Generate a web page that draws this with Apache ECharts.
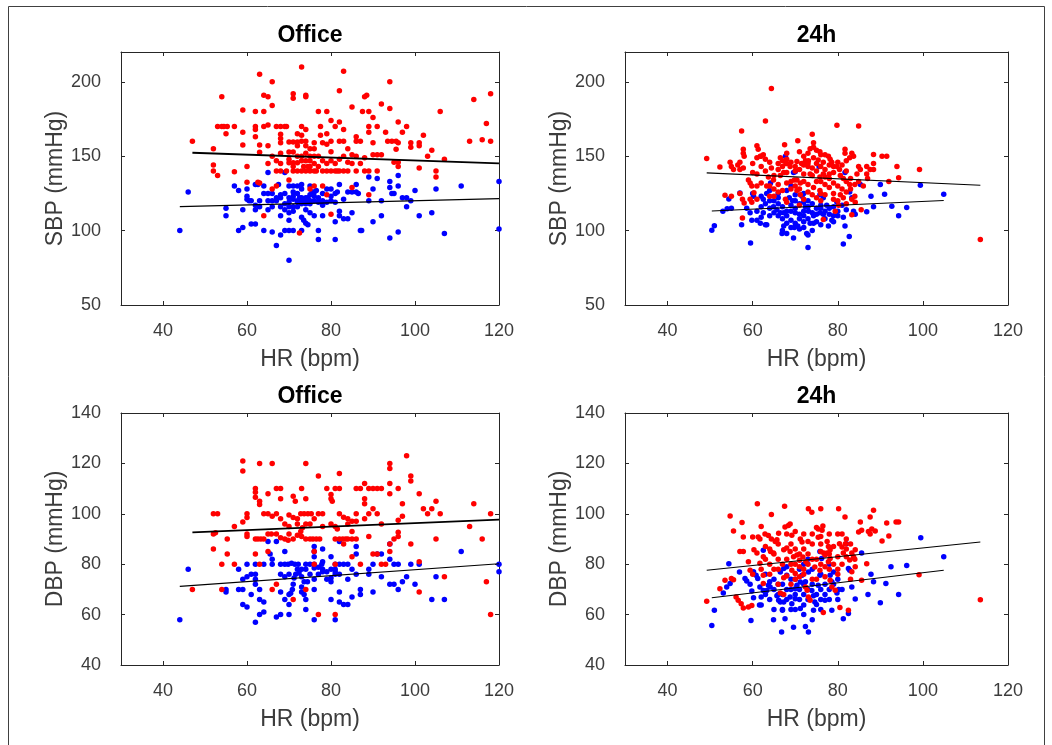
<!DOCTYPE html>
<html>
<head>
<meta charset="utf-8">
<script src="https://cdn.jsdelivr.net/npm/echarts@6/dist/echarts.min.js"></script>
<style>
html,body{margin:0;padding:0;background:#fff;}
#chart{width:1052px;height:745px;}
</style>
</head>
<body>
<div id="chart"></div>
<script>
// ---- Titles / labels ----
const panelTitles = ['Office', '24h', 'Office', '24h'];
const xLabel = 'HR (bpm)';
const yLabels = ['SBP (mmHg)', 'SBP (mmHg)', 'DBP (mmHg)', 'DBP (mmHg)'];

// ---- Tick labels ----
const hrTicks = [40, 60, 80, 100, 120];
const sbpTicks = [50, 100, 150, 200];
const dbpTicks = [40, 60, 80, 100, 120, 140];
const hrRange = [30, 120];
const sbpRange = [50, 220];
const dbpRange = [40, 140];

// ---- Office SBP ----
const officeSbpRed = [[47,160],[54,190],[52,155],[52,144],[52,140],[53,137],[53,170],[54,170],[54.5,170],[55.3,170],[55,165],[57,170],[57,139.5],[59,181],[59,166],[59,157.5],[60,132.5],[60,143],[62,180],[62,170],[62,168],[62,163],[64,180],[63,205],[63,157.5],[63,152.6],[62.6,132.5],[63,132],[64,191],[65,190],[64,170],[65,171],[65,157],[65,145],[66,200],[66,184],[64,110],[67,170],[68,170],[69,170],[69.4,170],[68,164.7],[68,161.8],[68,159],[68,152],[67,140],[68,140],[69.4,140],[71,192],[71,189],[70,159.5],[71,159.5],[72,159.5],[72,157],[70,152.8],[71,152.8],[70,145.6],[71,145.6],[72,145.6],[71,140],[72,140],[73,140],[70,134],[73,210],[73,170],[73,164],[73,160],[74,160],[74,190],[74,191],[74,157],[73,147],[74,147],[75,147],[73.5,143],[74.5,143],[75,143],[74,140],[75,140],[76,140],[76.5,140],[72.5,98.4],[76,159],[77,180],[79,180],[77.5,170],[77.5,164],[78,159],[78,130],[79,124],[80,174],[81,170],[82,194],[83,207],[82,173],[82,160],[83,160],[81,145],[81,140],[81.5,140],[82,140],[83,140],[84,140],[83,168],[84,155],[85,183],[85,151],[86,163],[86,160],[87,160],[88,190],[88.5,191],[87.5,180],[88,149],[88,140],[89,140],[89,180],[90,176],[89,170],[91,170],[89,166],[90,159],[90,151],[91,151],[92,151],[91,140],[92,185],[93,166],[93.5,160],[94.5,160],[95.5,160],[96,159],[94,200],[94,182],[96,173],[98,170],[97,166],[95.5,154.6],[95,146],[96,146],[96,143],[99,159],[99,156],[101,159],[101,157],[102,164],[101,142],[103,150],[104,154],[105,140],[105,136],[106,180],[107,148],[114,188],[113,160],[116,161],[117,172],[118,192],[118,160],[80,111],[85,129],[89,124],[75,150],[76,150],[77,150],[79,165],[80,153],[78,140],[79,140],[80,140],[86,140],[75,128],[76,130],[66,128],[67,130],[72,150],[73,150],[74,152],[70,148],[71,143],[76,145],[77,143],[78,147],[79,145],[80,147],[82,148],[83,150],[84,146],[75,155],[76,155],[66,150],[67,147],[68,145],[72,165],[74,168],[79,158],[80,160],[85,145],[86,150],[87,145]];
const officeSbpBlue = [[44,100],[46,126],[55,115],[55,110],[57,130],[58,127],[58,100],[59,102],[59,114],[60,121],[60,123],[60.5,120],[61,120],[60,128],[62,131],[62.6,131],[62,114],[63,116],[62,117],[61,104.5],[62,104.5],[64,130],[64,100],[65,139],[65,120],[66,120],[65,114],[66,99],[67,90],[67,120],[67,122],[67.5,131],[68,122],[69,139],[68,97],[69,100],[68,116],[69,114],[70,112],[70,107],[70,100],[70,80],[70,130],[71,126],[71,121],[72,120],[72.5,122],[70,116],[71,116],[72,116],[71,100],[73,120],[73,118],[74,122],[74,120],[74.5,121],[73,109],[73.5,107],[74,105],[74.5,104],[73,100],[74,114],[74.5,122],[75,124],[75.5,126],[76,126],[76.5,127],[77,100],[77,94],[78,110],[78,120],[79,119],[80,120],[80,128],[81,125],[81.5,126],[81,106],[81,94],[82,131],[82,113],[82,110],[83,108],[84,108],[85,112],[84,126],[85,126],[86,126],[86.5,125],[86,131],[87,100],[87.3,100],[89,136],[89,120],[90,128],[91,135],[90,106],[92,120],[92,110],[94,133],[94,129],[94.5,125],[94,95],[96,137],[96,130],[96,99],[95,125],[97,122],[98,122],[99,120],[98,116],[100,127],[101,110],[104,112],[105,128],[107,98],[111,130],[120,133],[120,101],[72,125],[73,128],[75,118],[76,120],[77,122],[70,122],[69,125],[66,125],[64,125],[63,120],[68,110],[75,112],[76,110],[78,125],[79,128],[71,113],[72,130],[71,123],[72,119],[73,122],[74,118],[75,120],[76,123],[77,119],[69,118],[70,119],[68,124],[66,116],[65,125],[78,117],[80,123],[81,119],[83,121],[75,130],[71,130],[73,131]];
const officeSbpRedFit = [[47,152.3],[120,145.1]];
const officeSbpBlueFit = [[44,116.1],[120,121.5]];

// ---- 24h SBP ----
const h24SbpRed = [[49.2,148.5],[52.3,142.7],[53.5,123.8],[55,123],[54.7,146],[55,143],[55.5,141],[56.5,144],[57,146],[57,141],[57.8,142],[57.4,167],[57.8,154.6],[57.8,152],[58,150],[57,125],[57.6,121],[58,118.6],[57.6,108.5],[59,134],[59.4,132],[59.8,130],[59.4,121],[59.8,119],[61,157],[61.3,154.6],[61,149],[61.8,150],[60,139],[61,138],[60.3,125.4],[61,121],[62,150],[62.5,151],[63,173.7],[64.4,195.5],[64.4,142],[63.7,136],[64.9,134],[63.3,130],[64,130],[64,123],[65,123],[66.5,149],[67,147],[67.8,145],[67.5,157.7],[68,152],[68,145],[68.8,143],[66.5,137],[67.3,139],[68,139],[69,133],[69.8,134],[67.7,121],[68,119],[70.6,160.4],[71,153],[70.4,146.5],[71.5,145],[72.4,147],[70.4,134],[71.2,132],[72,133],[70.4,127],[71.2,124],[72,121],[74,164.7],[74.3,159],[74.3,156],[73.5,155],[75,154],[75.8,153],[73.1,147],[74.3,149],[75.4,147.5],[76.6,146],[73.5,138],[75,140],[75.8,136],[76.6,138],[73,131],[74.3,129],[75.8,127],[76.6,107.4],[76,151],[77,151],[77.8,150],[78.2,148],[78.6,146],[79,143],[79.8,170.8],[79.8,143],[80.4,141],[81.7,154.6],[81.7,152],[82,147],[82.8,149],[80.6,137],[81.3,135],[82,133],[82.8,131],[80.6,124],[81.3,122],[80.2,117],[79.4,113],[84.9,170.3],[83.3,152],[83.7,150],[84.9,143],[85.3,141],[84.5,138],[84.9,133],[83.3,121],[84.1,119],[83.3,110.7],[85.5,114],[86.8,143],[87.6,141],[88.4,141],[88.4,145],[86.8,138],[88.4,151.2],[90.4,150],[91.5,150],[93.9,143],[94.3,135.5],[92,133],[99.2,141],[113.5,94],[65,128],[66,126],[69,128],[70,140],[72,138],[73,143],[77,131],[78,129],[79,125],[66,141],[62,143],[60,145],[63,140],[78,135],[76,120],[71,117],[66,145],[67,143],[68,148],[69,146],[70,143],[71,141],[72,144],[73,145],[74,142],[75,145],[76,143],[77,141],[78,144],[79,139],[80,146],[81,144],[82,140],[83,135],[84,131],[70,130],[71,128],[73,126],[74,124],[75,122],[76,133],[77,136],[78,138],[79,132],[80,130],[81,128],[82,126],[83,128],[68,132],[67,127],[66,131],[65,137],[64,146],[63,148],[62,132],[61,130],[72,150],[73,152],[74,137],[75,133],[76,125],[77,124],[79,121],[80,120],[82,118],[84,123],[86,130],[87,135]];
const h24SbpBlue = [[50.4,100.2],[51,103.3],[53,113],[54,114.6],[55,115],[54.4,121.3],[57,125.3],[57.4,104],[59.5,91.6],[58.6,115],[59.4,112],[59.8,107],[60,125],[60.2,123],[61,107],[61.8,105],[62,123],[62.5,121],[63.3,125],[64,127],[62.5,112],[63,104],[63.3,104],[64.2,132],[64.9,116],[65.7,114],[66.5,112],[67.3,112],[66.9,98],[67.3,103],[68,98],[67.7,150],[69,130],[68.6,122],[69.4,120],[69.6,139],[70,139.5],[69,102],[69.8,102],[70.6,103],[69.6,95],[71,118],[72,119],[72.4,116],[73.1,113],[71.6,123],[72,125],[72.7,98],[73,97],[73,88.7],[74.3,110],[75,111],[75,106],[75.8,112],[76.6,111],[73.5,105],[74.3,105],[75.8,124],[76.6,122],[77.4,117],[75.6,143],[77.8,103],[78.6,107],[79,106],[79,116],[79.8,119],[81.3,109],[81.7,103],[81.3,91],[81.7,139],[82.7,96],[82.8,126],[83.3,122],[83.7,113],[84.1,111],[85.3,131],[86.8,112.6],[87.8,123],[88.4,116],[90,131],[91,124.4],[92.7,116.4],[94.3,110],[96.2,115.5],[99.4,130.5],[104.9,124.4],[65,120],[66,118],[67,108],[68,110],[70,112],[71,108],[72,106],[70,115],[74,118],[76,115],[78,111],[80,110],[69,113],[66,125],[64,110],[62,109],[68,127],[73,120],[77,108],[71,101],[63,118],[64,115],[65,112],[66,110],[67,116],[68,113],[69,117],[70,120],[71,111],[72,110],[73,108],[74,112],[75,115],[76,117],[77,113],[78,115],[79,110],[80,113],[81,117],[82,114],[67,100],[68,105],[69,107],[70,105],[72,102],[74,100],[76,104],[62,116],[61,113],[64,120],[66,122],[70,124],[72,113],[73,116]];
const h24SbpRedFit = [[49.2,138.8],[113.5,130.5]];
const h24SbpBlueFit = [[50.4,113.2],[104.9,120.2]];

// ---- Office DBP ----
const officeDbpRed = [[47,70],[52,100],[53,100],[52,92],[52.5,92.5],[52,86],[54,80],[55.3,90],[55.3,84],[54,70],[57,95],[57,80],[59,121],[59,117],[59,96.7],[60,100],[60,98.5],[60,92],[60,91],[62,110],[62,108.6],[62,106.6],[62,90],[62.6,90],[63.3,90],[64,90],[63,120],[63,105],[63,103.7],[62,84],[63,80],[64,100],[65,100],[65,108],[66,120],[66,99],[65,92],[65.8,92],[65,85],[67,110],[68,110],[68,106],[67,100],[68,98],[69,96],[67,92],[68,90.5],[69,90],[69.8,89.5],[67,72],[66,70],[71,107],[71.5,105],[70,99.5],[71,98.5],[72,98],[71,90],[72,91.5],[72.8,93],[73.2,94.5],[73,110],[74,120],[74,106],[72.8,100],[73.6,100],[74.5,100],[75.3,100],[74,96],[75,96],[74,90],[75,90],[75.7,90],[76.5,90],[77.3,90],[71,66],[74,70],[77,115],[77,100],[78,100],[76,85],[76,80],[77,60],[79,110],[80,107.7],[80,106],[80.3,105],[81,110],[82,110],[82,116],[81,95],[81.5,94],[81,90],[82,90],[82.8,90],[83.5,90],[82,100],[83,98.6],[81,80],[81,60],[83,88],[84,98],[85,97],[86,97],[85,93],[84,90],[85,90],[86,90],[85,83],[86,110],[87,110],[87,80],[88,112],[88,106],[88,104],[89,110],[90,110],[91,110],[92,110],[89,100],[89,91],[90,102],[91,100],[90,84],[91,84],[92,80],[93,80],[94,120],[94,118],[94,112],[94,108],[94,88],[94,85],[95,90],[96,91],[96,110],[96,97.4],[96,92.7],[97,104],[97,99],[98,123],[99,115],[99,113],[99,88],[101,108],[101,81],[101,69],[102,102],[103,100],[104,102],[105,105],[105,90],[106,100],[107,75],[113,95],[114,104],[116,90],[117,73],[118,100],[118,60],[70,95],[72,96],[76,98],[78,95],[80,96],[84,96],[86,100],[88,98],[92,96],[70,92],[73,91]];
const officeDbpBlue = [[44,58],[46,78],[55,70],[55,69],[58,78],[58,70],[59,70],[59,74],[60,75],[59,64],[60,63],[60,80],[61,76],[62,76],[61,68],[62,74],[62,72],[63,70],[62,57],[63,60],[64,61],[63,66],[64,65],[62,80],[64,80],[65,89],[65.5,84],[66,82],[66,80],[68,80],[69,80],[69.8,80],[70.6,80.4],[71.4,80],[72.2,80],[67,89],[69,85],[68,76],[69,75],[68,69],[67,59],[68,60],[69,66],[70,68],[70.4,68.5],[70.8,70],[70,60],[71.2,74.5],[71.6,76],[72.4,76.5],[70,64],[73,78],[74,78],[73,75],[73.6,73],[74.4,73],[73,69],[73.6,68],[74,66],[74,62],[75,80],[76,80],[76,85],[76,87],[76,83],[76,78.5],[77,78.8],[77.8,80],[78,81],[76,70],[76,58],[77,76],[78,77],[78,86],[79,74],[80,74.5],[80,73],[80,66],[81,80],[81,78],[81,77],[81,76],[80,83],[81,58],[82,89],[82,69],[82,65],[83,64],[84,64],[82,80],[83,80],[84,80],[85,78],[85,67],[86,87],[86,84],[86,76],[87,70],[87,68],[89,78],[89,76],[90,80],[90,69],[91,84],[92,84],[92,75],[94,88],[94,82],[94,72],[95,72],[95,80],[96,80],[96,70],[97,73],[98,75],[99,80],[100,72],[101,80],[105,75],[104,66],[107,66],[111,85],[120,80],[120,77],[72,78],[74,80],[75,76],[78,78],[80,78],[70,76],[71,72],[73,71],[76,74],[79,77],[82,76],[84,74]];
const officeDbpRedFit = [[47,92.6],[120,97.7]];
const officeDbpBlueFit = [[44,71.2],[120,80.2]];

// ---- 24h DBP ----
const h24DbpRed = [[49.2,65.3],[52.3,70.3],[53.5,73.6],[54.7,99.1],[55.5,93.2],[55,74.3],[55.5,73.8],[56.1,67],[56.6,65.7],[57.5,96.5],[57,85],[57.8,85],[57.8,90.8],[57.3,64.3],[57.8,62.6],[59.4,77.6],[60,76],[59,63],[59.8,63.6],[59,81],[60,90.8],[61.3,90.8],[61.1,104],[60.3,85.7],[61,84.4],[61.7,80.4],[62.5,83],[61.7,90],[62.5,75.6],[62.5,72.3],[62.9,92],[63.7,91.4],[64.4,90],[64.4,99.7],[65.3,89],[65.7,89.7],[66.1,92.3],[64.2,85],[64.9,84.4],[67.5,103],[67.6,94.8],[68.4,95.4],[68.8,96],[67.3,85.7],[68,86.4],[68.8,85],[69.6,83],[70.4,83.7],[67.3,74.6],[68,75.3],[69.2,77.6],[70,76.3],[66.5,68.6],[67.3,68],[69.2,91.5],[71.2,90],[71.6,88.8],[71,81.6],[71.8,82.9],[72.5,81],[72.4,71],[72.8,69.7],[73.1,67],[73.5,65.7],[73.1,102],[73.9,100.6],[75,94.6],[75.4,94],[75.4,90.7],[76,85],[76.7,84.4],[77.5,84.4],[74.6,78.9],[75.8,77.6],[76,102],[76.5,95.2],[76.3,93.5],[76.6,60.8],[77.5,89],[77.8,87],[78.2,85.7],[77,83.7],[77.8,81],[78.2,82.3],[78.2,73.6],[78.6,71],[79.4,69.7],[80.2,102],[80.4,88.1],[81,86.8],[81.8,88.1],[81.7,98.7],[81.3,84.4],[82,83],[82.8,81.7],[80.5,62.8],[82.5,61.7],[83.3,84.4],[83.7,83],[84.1,79],[83.3,77],[84.1,85.7],[85.3,96.7],[84.9,92.8],[85.6,93.5],[85.6,73.6],[86.8,80.2],[87.2,93],[87.6,92],[88,94],[88.4,101.4],[87.6,98.7],[88.8,93.2],[90.4,89.2],[91.5,96.3],[92,91.2],[93.7,96.7],[94.3,96.7],[99.1,75.8],[113.5,65.9],[64,80],[65,78],[66,82],[70,80],[72,78],[73,84],[74,82],[76,80],[79,80],[80,78],[62,95],[63,87],[66,72],[69,72],[71,75],[74,74],[77,75],[78,92],[80,92],[82,90],[63,82],[64,86],[65,84],[66,88],[67,80],[68,82],[69,80],[70,86],[71,84],[72,86],[73,80],[74,88],[75,82],[76,88],[77,79],[78,84],[79,87],[80,83],[81,80],[82,86],[83,88],[84,82],[68,92],[70,93],[72,92],[74,92],[66,78],[70,74],[72,76],[75,74],[78,78],[80,76],[62,78],[64,76],[83,74],[69,88],[71,79],[73,89],[76,91],[81,92]];
const h24DbpBlue = [[50.4,55.7],[51,61.7],[53.1,68.6],[54.4,80.2],[53.9,71],[54.7,72.3],[56.9,76.9],[58.2,74.3],[58.6,73.3],[59.4,72],[59.8,69.4],[60.2,66.7],[59.6,57.7],[60.2,77],[60.8,75.6],[61.2,74.3],[61.6,63.8],[62,63.8],[62.5,85.5],[61.7,71],[62.5,69.6],[63.3,69.6],[63.7,71.6],[64.1,71],[64.9,58],[65.7,67.5],[66.1,65.7],[66.5,65],[67.3,65],[66.5,76.9],[67.3,78.3],[68,75.6],[66.8,53.1],[67,61.7],[67.6,58.4],[68.8,67],[69.2,64.3],[70,66.3],[69.6,55],[70,70.3],[70.4,71.6],[71.2,72.9],[71.2,62.4],[72,63.8],[72.4,55.3],[73.1,53.1],[71.6,75.6],[72.4,73],[73.1,76.9],[73.9,69.6],[74.3,67.5],[74.6,65],[74.3,61.7],[75.4,71.6],[75.8,75.6],[76.2,82.3],[75.8,85],[77,65.7],[78.2,75.6],[78.6,73],[79,76.9],[78.6,61.7],[79.8,68.6],[80.2,70],[81.3,58.4],[82,88.1],[82.5,60.4],[82.5,78.3],[82.8,77.6],[83.3,71],[84.1,66.2],[85.6,84.4],[87.1,68],[87.8,76],[88.4,73],[90,64.7],[91.3,72.3],[92.5,79],[94.3,68],[96.2,79.5],[99.5,90.5],[104.9,83],[64,73],[65,70],[66,72],[68,70],[69,74],[70,68],[71,66],[72,68],[73,70],[75,68],[76,70],[77,72],[78,66],[80,74],[81,70],[63,76],[67,62],[70,62],[74,78],[72,80],[63,68],[64,66],[65,74],[66,68],[67,72],[68,66],[69,70],[70,74],[71,70],[72,72],[73,66],[74,72],[75,64],[76,66],[77,68],[78,70],[79,72],[80,66],[67,68],[69,62],[72,60],[74,58],[76,62],[65,62],[62,67],[68,79],[71,78],[73,82],[76,76],[78,80]];
const h24DbpRedFit = [[49.2,77.6],[113.5,88.8]];
const h24DbpBlueFit = [[50.4,66.7],[104.9,77.6]];

// ---- Build ----
const panels = [
  {red: officeSbpRed, blue: officeSbpBlue, redFit: officeSbpRedFit, blueFit: officeSbpBlueFit, yr: sbpRange, yt: sbpTicks, redW: 1.8, blueW: 1.1},
  {red: h24SbpRed, blue: h24SbpBlue, redFit: h24SbpRedFit, blueFit: h24SbpBlueFit, yr: sbpRange, yt: sbpTicks, redW: 1.1, blueW: 1.1},
  {red: officeDbpRed, blue: officeDbpBlue, redFit: officeDbpRedFit, blueFit: officeDbpBlueFit, yr: dbpRange, yt: dbpTicks, redW: 1.8, blueW: 1.1},
  {red: h24DbpRed, blue: h24DbpBlue, redFit: h24DbpRedFit, blueFit: h24DbpBlueFit, yr: dbpRange, yt: dbpTicks, redW: 1.1, blueW: 1.1}
];
const grids = [
  {left: 121, top: 52, width: 378, height: 253},
  {left: 625, top: 52, width: 383, height: 253},
  {left: 121, top: 413, width: 378, height: 252},
  {left: 625, top: 413, width: 383, height: 252}
];
const FONT = '"Liberation Sans", Arial, Helvetica, sans-serif';
const AX = '#262626';
const LBL = '#3c3c3c';

const xAxes = [], yAxes = [], series = [], titles = [];
panels.forEach((p, i) => {
  const g = grids[i];
  xAxes.push({
    gridIndex: i, type: 'value', min: hrRange[0], max: hrRange[1], position: 'bottom',
    name: xLabel, nameLocation: 'middle', nameGap: 43,
    nameTextStyle: {fontFamily: FONT, fontSize: 23, color: LBL},
    axisLine: {show: true, onZero: false, lineStyle: {color: AX, width: 1}},
    axisTick: {show: true, inside: true, length: 4, customValues: hrTicks, lineStyle: {color: AX}},
    axisLabel: {show: true, customValues: hrTicks, margin: 17, fontFamily: FONT, fontSize: 18, color: LBL},
    splitLine: {show: false}
  });
  xAxes.push({
    gridIndex: i, type: 'value', min: hrRange[0], max: hrRange[1], position: 'top',
    axisLine: {show: true, onZero: false, lineStyle: {color: AX, width: 1}},
    axisTick: {show: true, inside: true, length: 4, customValues: hrTicks, lineStyle: {color: AX}},
    axisLabel: {show: false}, splitLine: {show: false}
  });
  yAxes.push({
    gridIndex: i, type: 'value', min: p.yr[0], max: p.yr[1], position: 'left',
    name: yLabels[i], nameLocation: 'middle', nameGap: 48, nameRotate: 90,
    nameTextStyle: {fontFamily: FONT, fontSize: 23, color: LBL},
    axisLine: {show: true, onZero: false, lineStyle: {color: AX, width: 1}},
    axisTick: {show: true, inside: true, length: 4, customValues: p.yt, lineStyle: {color: AX}},
    axisLabel: {show: true, customValues: p.yt, margin: 20, fontFamily: FONT, fontSize: 18, color: LBL},
    splitLine: {show: false}
  });
  yAxes.push({
    gridIndex: i, type: 'value', min: p.yr[0], max: p.yr[1], position: 'right',
    axisLine: {show: true, onZero: false, lineStyle: {color: AX, width: 1}},
    axisTick: {show: true, inside: true, length: 4, customValues: p.yt, lineStyle: {color: AX}},
    axisLabel: {show: false}, splitLine: {show: false}
  });
  const xi = i * 2, yi = i * 2;
  series.push({type: 'scatter', xAxisIndex: xi, yAxisIndex: yi, data: p.blue, symbol: 'circle', symbolSize: 5.5, itemStyle: {color: '#0000ff', opacity: 1}, z: 2});
  series.push({type: 'scatter', xAxisIndex: xi, yAxisIndex: yi, data: p.red, symbol: 'circle', symbolSize: 5.5, itemStyle: {color: '#ff0000', opacity: 1}, z: 3});
  series.push({type: 'line', xAxisIndex: xi, yAxisIndex: yi, data: p.redFit, symbol: 'none', lineStyle: {color: '#000', width: p.redW}, z: 4});
  series.push({type: 'line', xAxisIndex: xi, yAxisIndex: yi, data: p.blueFit, symbol: 'none', lineStyle: {color: '#000', width: p.blueW}, z: 4});
  titles.push({
    text: panelTitles[i], left: g.left + g.width / 2, top: g.top - 28, textAlign: 'center', padding: 0,
    textStyle: {fontFamily: FONT, fontSize: 23, fontWeight: 'bold', color: '#000'}
  });
});

const chart = echarts.init(document.getElementById('chart'), null, {renderer: 'canvas'});
chart.setOption({
  animation: false,
  backgroundColor: '#fff',
  title: titles,
  grid: grids.map(g => Object.assign({containLabel: false, show: false}, g)),
  xAxis: xAxes,
  yAxis: yAxes,
  series: series,
  graphic: [{
    type: 'rect', silent: true, z: -1,
    shape: {x: 8.5, y: 6.5, width: 1036, height: 760},
    style: {fill: null, stroke: '#404040', lineWidth: 1}
  }]
});
</script>
</body>
</html>
